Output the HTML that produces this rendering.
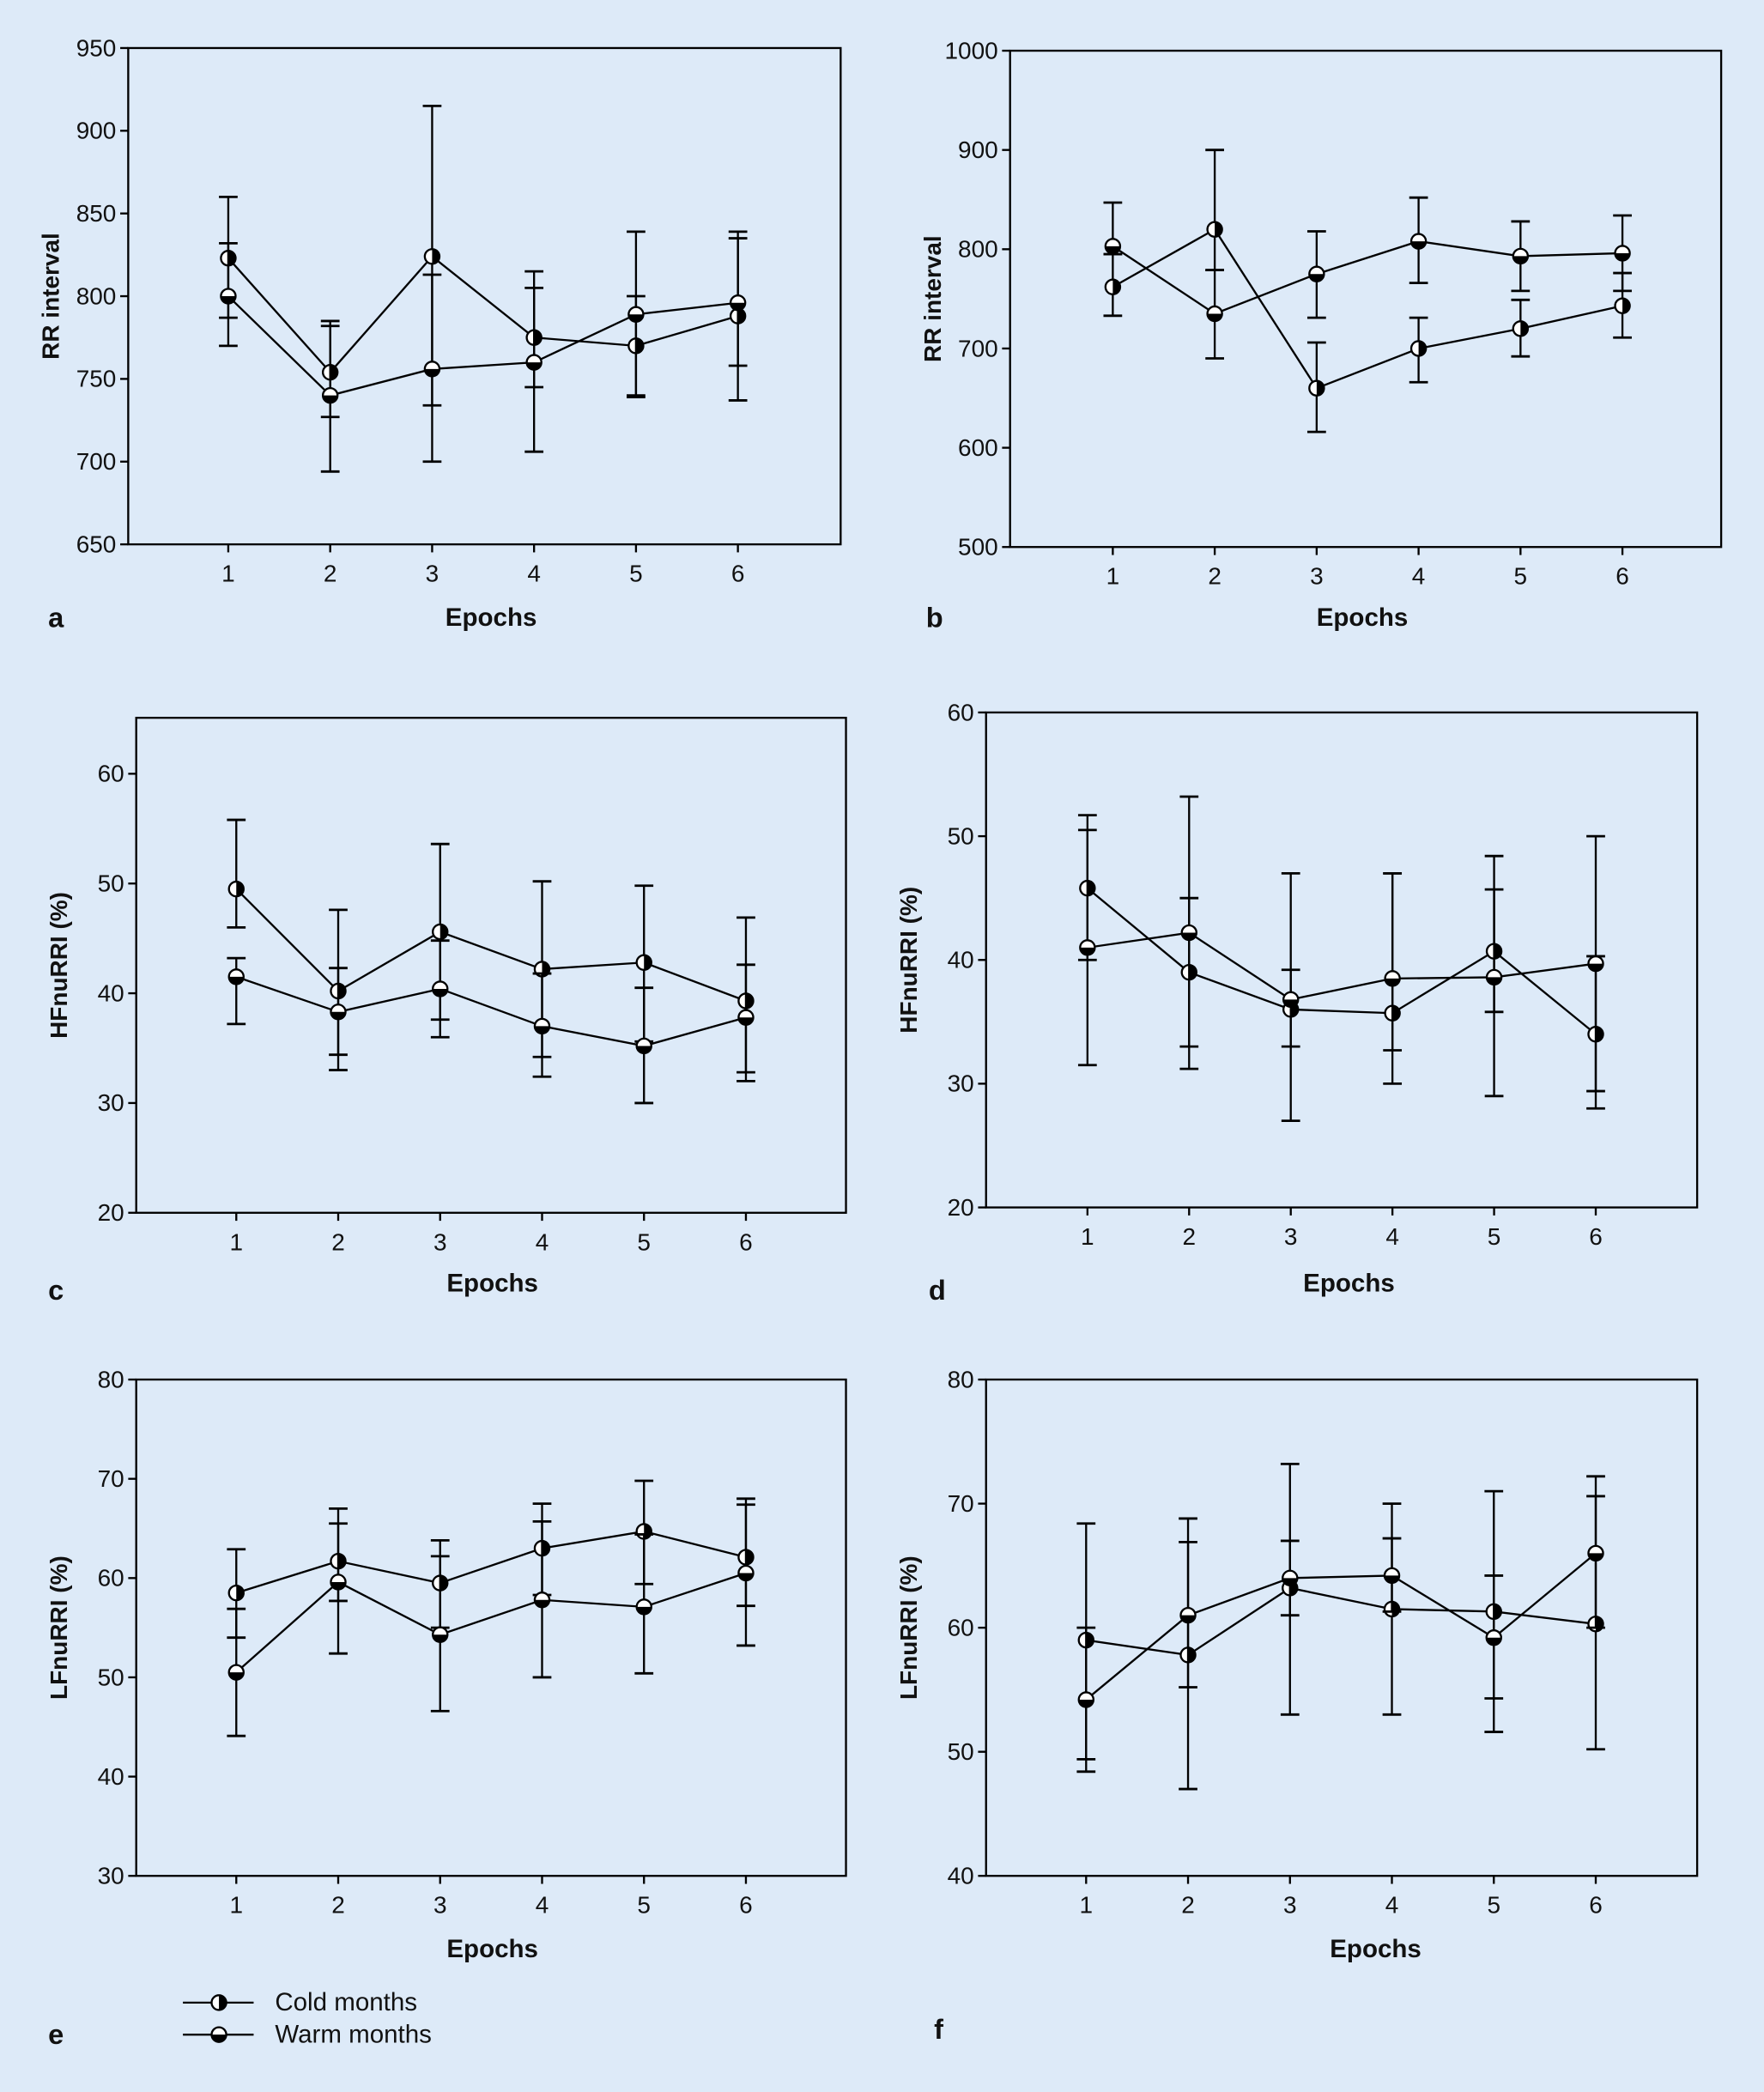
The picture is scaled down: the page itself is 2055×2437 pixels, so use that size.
<!DOCTYPE html>
<html><head><meta charset="utf-8"><style>
html,body{margin:0;padding:0;background:#ddeaf8;}
svg{display:block;}
text{font-family:"Liberation Sans",sans-serif;fill:#111;}
</style></head><body>
<svg id="fig" width="2055" height="2437" viewBox="0 0 1322 1568" xmlns="http://www.w3.org/2000/svg">
<rect x="0" y="0" width="1322" height="1568" fill="#ddeaf8"/>
<g id="legend">
  <line x1="137" y1="1501" x2="190" y2="1501" stroke="#000" stroke-width="1.5"/>
  <line x1="137" y1="1525" x2="190" y2="1525" stroke="#000" stroke-width="1.5"/>
  <text x="206" y="1507" font-size="19">Cold months</text>
  <text x="206" y="1531" font-size="19">Warm months</text>
</g>
</svg>
<script>
const epochs=[1,2,3,4,5,6];
// panel a
const aColdMean=[823,754,824,775,770,788], aColdUp=[860,785,915,815,800,835], aColdLo=[787,727,734,745,740,737];
const aWarmMean=[800,740,756,760,789,796], aWarmUp=[832,782,813,805,839,839], aWarmLo=[770,694,700,706,739,758];
const aTicks=[650,700,750,800,850,900,950];
// panel b
const bColdMean=[762,820,660,700,720,743], bColdUp=[795,900,706,731,749,776], bColdLo=[733,779,616,666,692,711];
const bWarmMean=[803,735,775,808,793,796], bWarmUp=[847,779,818,852,828,834], bWarmLo=[795,690,731,766,758,758];
const bTicks=[500,600,700,800,900,1000];
// panel c
const cColdMean=[49.5,40.2,45.6,42.2,42.8,39.3], cColdUp=[55.8,47.6,53.6,50.2,49.8,46.9], cColdLo=[46,34.4,37.6,34.2,35.6,32.8];
const cWarmMean=[41.5,38.3,40.4,37.0,35.2,37.8], cWarmUp=[43.2,42.3,44.8,41.8,40.5,42.6], cWarmLo=[37.2,33,36,32.4,30,32];
const cTicks=[20,30,40,50,60];
// panel d
const dColdMean=[45.8,39,36,35.7,40.7,34], dColdUp=[51.7,45,39.2,47,48.4,40.3], dColdLo=[40,31.2,27,32.7,35.8,28];
const dWarmMean=[41,42.2,36.8,38.5,38.6,39.7], dWarmUp=[50.5,53.2,47,47,45.7,50], dWarmLo=[31.5,33,33,30,29,29.4];
const dTicks=[20,30,40,50,60];
// panel e
const eColdMean=[58.5,61.7,59.5,63,64.7,62.1], eColdUp=[62.9,67,63.8,67.5,69.8,68], eColdLo=[54,57.7,55,58.3,59.4,57.2];
const eWarmMean=[50.5,59.6,54.3,57.8,57.1,60.5], eWarmUp=[56.9,65.5,62.2,65.7,64.4,67.4], eWarmLo=[44.1,52.4,46.6,50,50.4,53.2];
const eTicks=[30,40,50,60,70,80];
// panel f
const fColdMean=[59,57.8,63.2,61.5,61.3,60.3], fColdUp=[68.4,66.9,73.2,67.2,71,70.6], fColdLo=[49.4,47,53,53,54.3,50.2];
const fWarmMean=[54.2,61,64,64.2,59.2,66], fWarmUp=[60,68.8,67,70,64.2,72.2], fWarmLo=[48.4,55.2,61,61.3,51.6,60];
const fTicks=[40,50,60,70,80];

const NS="http://www.w3.org/2000/svg";
const svg=document.getElementById('fig');
function mk(tag,attrs,parent){const e=document.createElementNS(NS,tag);for(const k in attrs)e.setAttribute(k,attrs[k]);(parent||svg).appendChild(e);return e;}

function marker(g,cx,cy,type){
  const r=5.5;
  mk('circle',{cx:cx,cy:cy,r:r,fill:'#fff',stroke:'#000','stroke-width':1.5},g);
  let d;
  if(type==='cold') d=`M${cx},${cy-r} A${r},${r} 0 0 1 ${cx},${cy+r} Z`;
  else d=`M${cx-r},${cy} A${r},${r} 0 0 0 ${cx+r},${cy} Z`;
  mk('path',{d:d,fill:'#000'},g);
}

function panel(p){
  const g=mk('g',{});
  
  
  const ymin=p.dom[0],ymax=p.dom[1];
  const sy=v=>p.y1-(v-ymin)/(ymax-ymin)*(p.y1-p.y0);
  const sx=e=>p.xa+(e-1)*(p.xb-p.xa)/5;
  const box=mk('rect',{x:p.x0,y:p.y0,width:p.x1-p.x0,height:p.y1-p.y0,fill:'none',stroke:'#000','stroke-width':1.5},g);
  
  
  p.ticks.forEach(t=>{
    const y=sy(t);
    mk('line',{x1:p.x0-6,y1:y,x2:p.x0,y2:y,stroke:'#000','stroke-width':1.5},g);
    const tx=mk('text',{x:p.x0-9,y:y+6,'font-size':18,'text-anchor':'end'},g);
    tx.textContent=t;
    
    
  });
  epochs.forEach(e=>{
    const x=sx(e);
    mk('line',{x1:x,y1:p.y1,x2:x,y2:p.y1+6,stroke:'#000','stroke-width':1.5},g);
    const tx=mk('text',{x:x,y:p.y1+28,'font-size':18,'text-anchor':'middle'},g);
    tx.textContent=e;
    
    
  });
  const xt=mk('text',{x:p.ex,y:p.ey,'font-size':19,'font-weight':'bold','text-anchor':'middle'},g);
  xt.textContent='Epochs';
  
  
  const ymid=(p.y0+p.y1)/2;
  const yt=mk('text',{x:p.x0-52,y:ymid,'font-size':18,'font-weight':'bold','text-anchor':'middle',transform:`rotate(-90 ${p.x0-52} ${ymid})`},g);
  yt.textContent=p.ytitle;
  
  
  const lb=mk('text',{x:p.lx,y:p.ly,'font-size':21,'font-weight':'bold'},g);
  lb.textContent=p.id;
  
  
  [['cold',p.cold],['warm',p.warm]].forEach(([type,s])=>{
    const sg=mk('g',{},g);
    
    
    s[0].forEach((v,i)=>{
      const x=sx(epochs[i]);
      const eb=mk('g',{},sg);
      
      
      mk('line',{x1:x,y1:sy(s[1][i]),x2:x,y2:sy(s[2][i]),stroke:'#000','stroke-width':1.5},eb);
      [s[1][i],s[2][i]].forEach(c=>mk('line',{x1:x-7,y1:sy(c),x2:x+7,y2:sy(c),stroke:'#000','stroke-width':1.8},eb));
    });
    const pts=s[0].map((v,i)=>sx(epochs[i])+','+sy(v)).join(' ');
    const pl=mk('polyline',{points:pts,fill:'none',stroke:'#000','stroke-width':1.5},sg);
    
    
    s[0].forEach((v,i)=>marker(sg,sx(epochs[i]),sy(v),type));
  });
}

panel({id:'a',x0:96,x1:630,y0:36,y1:408,dom:[650,950],ticks:aTicks,xa:171,xb:553,ex:368,ey:469,lx:36,ly:470,ytitle:'RR interval',cold:[aColdMean,aColdUp,aColdLo],warm:[aWarmMean,aWarmUp,aWarmLo]});
panel({id:'b',x0:757,x1:1290,y0:38,y1:410,dom:[500,1000],ticks:bTicks,xa:834,xb:1216,ex:1021,ey:469,lx:694,ly:470,ytitle:'RR interval',cold:[bColdMean,bColdUp,bColdLo],warm:[bWarmMean,bWarmUp,bWarmLo]});
panel({id:'c',x0:102,x1:634,y0:538,y1:909,dom:[20,65.1],ticks:cTicks,xa:177,xb:559,ex:369,ey:968,lx:36,ly:974,ytitle:'HFnuRRI (%)',cold:[cColdMean,cColdUp,cColdLo],warm:[cWarmMean,cWarmUp,cWarmLo]});
panel({id:'d',x0:739,x1:1272,y0:534,y1:905,dom:[20,60],ticks:dTicks,xa:815,xb:1196,ex:1011,ey:968,lx:696,ly:974,ytitle:'HFnuRRI (%)',cold:[dColdMean,dColdUp,dColdLo],warm:[dWarmMean,dWarmUp,dWarmLo]});
panel({id:'e',x0:102,x1:634,y0:1034,y1:1406,dom:[30,80],ticks:eTicks,xa:177,xb:559,ex:369,ey:1467,lx:36,ly:1532,ytitle:'LFnuRRI (%)',cold:[eColdMean,eColdUp,eColdLo],warm:[eWarmMean,eWarmUp,eWarmLo]});
panel({id:'f',x0:739,x1:1272,y0:1034,y1:1406,dom:[40,80],ticks:fTicks,xa:814,xb:1196,ex:1031,ey:1467,lx:700,ly:1528,ytitle:'LFnuRRI (%)',cold:[fColdMean,fColdUp,fColdLo],warm:[fWarmMean,fWarmUp,fWarmLo]});
const lg=document.getElementById('legend');
marker(lg,164,1501,'cold');
marker(lg,164,1525,'warm');
</script>
</body></html>
